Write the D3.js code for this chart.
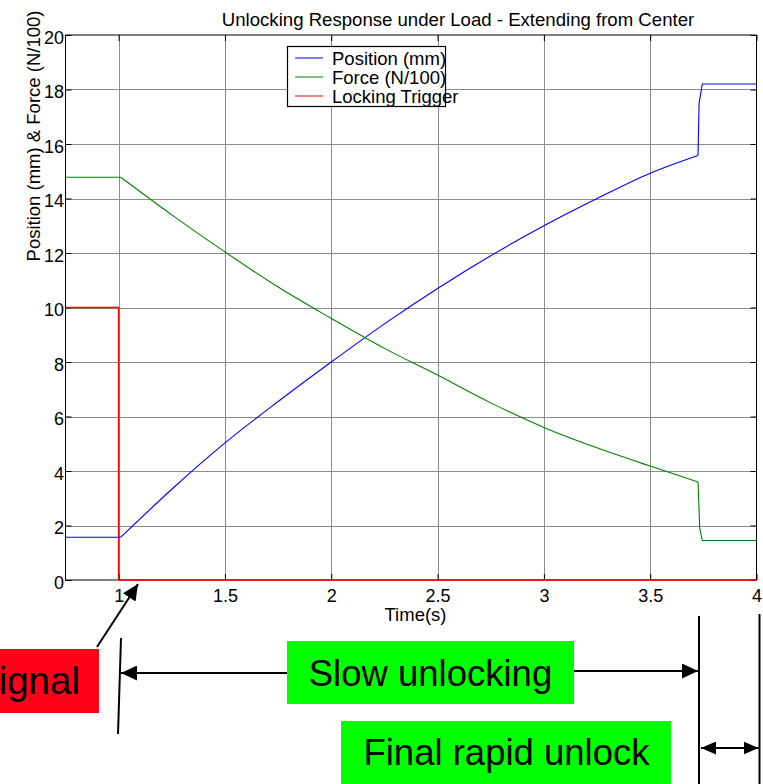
<!DOCTYPE html>
<html>
<head>
<meta charset="utf-8">
<script src="https://cdn.jsdelivr.net/npm/d3@7"></script>
<style>
  html, body { margin: 0; padding: 0; background: #fff; }
  svg { display: block; font-family: "Liberation Sans", Arial, sans-serif; }
</style>
</head>
<body>
<svg id="chart" width="763" height="784"></svg>
<script>
// ---------- data ----------
const title = "Unlocking Response under Load - Extending from Center";
const xLabel = "Time(s)";
const yLabel = "Position (mm) & Force (N/100)";
const xTicks = [1, 1.5, 2, 2.5, 3, 3.5, 4];
const yTicks = [0, 2, 4, 6, 8, 10, 12, 14, 16, 18, 20];

// index 1..12 is the smooth middle part; the rest are flat parts and steps
const positionT = [0.75, 1.01, 1.25, 1.5, 1.75, 2.0, 2.25, 2.5, 2.75, 3.0, 3.25, 3.5, 3.725, 3.73, 3.745, 4.0];
const positionV = [1.57, 1.57, 3.33, 5.03, 6.55, 8.0, 9.4, 10.7, 11.9, 13.0, 14.0, 14.93, 15.58, 17.5, 18.2, 18.2];

const forceT = [0.75, 1.01, 1.25, 1.5, 1.75, 2.0, 2.25, 2.5, 2.75, 3.0, 3.25, 3.5, 3.725, 3.733, 3.745, 4.0];
const forceV = [14.78, 14.78, 13.4, 12.04, 10.75, 9.6, 8.5, 7.52, 6.5, 5.6, 4.85, 4.18, 3.6, 1.9, 1.45, 1.45];

const triggerT = [0.75, 1.0, 1.0, 4.0];
const triggerV = [10, 10, 0, 0];

const seriesNames = ["Position (mm)", "Force (N/100)", "Locking Trigger"];
const seriesColors = ["#0000ff", "#008000", "#ff0000"];

const annotations = { signal: "Signal", slow: "Slow unlocking", rapid: "Final rapid unlock" };

// ---------- layout ----------
const FONT = "Liberation Sans, Arial, sans-serif";
const svg = d3.select("#chart");
const L = 65.5, R = 756.5, T = 35, B = 580;
const x = d3.scaleLinear().domain([0.75, 4]).range([L, R]);
const y = d3.scaleLinear().domain([0, 20]).range([B, T]);

// grid
const grid = svg.append("g").attr("stroke", "#8c8c8c").attr("stroke-width", 1);
xTicks.filter(t => t < 4).forEach(t => {
  grid.append("line").attr("x1", Math.round(x(t)) + 0.5).attr("x2", Math.round(x(t)) + 0.5)
    .attr("y1", T).attr("y2", B);
});
yTicks.filter(t => t > 0 && t < 20).forEach(t => {
  grid.append("line").attr("y1", Math.round(y(t)) + 0.5).attr("y2", Math.round(y(t)) + 0.5)
    .attr("x1", L).attr("x2", R);
});

// axes (inside ticks, box)
const xAxisB = d3.axisBottom(x).tickValues(xTicks).tickSize(-6).tickPadding(9).tickFormat(d3.format("~g"));
const xAxisT = d3.axisTop(x).tickValues(xTicks).tickSize(-6).tickFormat("");
const yAxisL = d3.axisLeft(y).tickValues(yTicks).tickSize(-6).tickPadding(1.5).tickFormat(d3.format("d"));
const yAxisR = d3.axisRight(y).tickValues(yTicks).tickSize(-6).tickFormat("");

function styleAxis(g) {
  g.select(".domain").attr("stroke", "#000");
  g.selectAll(".tick line").attr("stroke", "#000");
  g.selectAll("text").attr("font-family", FONT).attr("font-size", 18).attr("fill", "#000");
}
svg.append("g").attr("transform", `translate(0,${B})`).call(xAxisB).call(styleAxis)
  .call(g => g.select(".domain").attr("d", `M${L},0H${R}`));
svg.append("g").attr("transform", `translate(0,${T})`).call(xAxisT).call(styleAxis)
  .call(g => g.select(".domain").attr("d", `M${L},0H${R}`));
svg.append("g").attr("transform", `translate(${L},0)`).call(yAxisL).call(styleAxis)
  .call(g => g.select(".domain").attr("d", `M0,${T}V${B}`))
  .call(g => g.selectAll(".tick text").attr("dy", "0.45em"));
svg.append("g").attr("transform", `translate(${R},0)`).call(yAxisR).call(styleAxis)
  .call(g => g.select(".domain").attr("d", `M0,${T}V${B}`));

// series
const linLine = d3.line().x(d => x(d[0])).y(d => y(d[1])).curve(d3.curveLinear);
const smoothLine = d3.line().x(d => x(d[0])).y(d => y(d[1])).curve(d3.curveMonotoneX);
function drawSeries(pts, color, width, smoothFrom, smoothTo) {
  const g = svg.append("g").attr("fill", "none").attr("stroke", color).attr("stroke-width", width)
    .attr("stroke-linejoin", "round");
  if (smoothFrom == null) {
    g.append("path").attr("d", linLine(pts));
    return;
  }
  g.append("path").attr("d", linLine(pts.slice(0, smoothFrom + 1)));
  g.append("path").attr("d", smoothLine(pts.slice(smoothFrom, smoothTo + 1)));
  g.append("path").attr("d", linLine(pts.slice(smoothTo)));
}
drawSeries(d3.zip(triggerT, triggerV), seriesColors[2], 1.5);
drawSeries(d3.zip(positionT, positionV), seriesColors[0], 1.1, 1, 12);
drawSeries(d3.zip(forceT, forceV), seriesColors[1], 1.1, 1, 12);

// title & labels
svg.append("text").attr("x", 458).attr("y", 26).attr("text-anchor", "middle")
  .attr("font-size", 18.6).attr("fill", "#000").text(title);
svg.append("text").attr("x", 415.5).attr("y", 621).attr("text-anchor", "middle")
  .attr("font-size", 18.5).attr("fill", "#000").text(xLabel);
svg.append("text").attr("transform", "translate(40,136) rotate(-90)").attr("text-anchor", "middle")
  .attr("font-size", 18.5).attr("fill", "#000").text(yLabel);

// legend
const lg = svg.append("g");
lg.append("rect").attr("x", 287.5).attr("y", 46.5).attr("width", 158).attr("height", 60)
  .attr("fill", "#fff").attr("stroke", "#000").attr("stroke-width", 1.2);
seriesNames.forEach((n, i) => {
  const yy = 58 + i * 19;
  lg.append("line").attr("x1", 295).attr("x2", 323).attr("y1", yy).attr("y2", yy)
    .attr("stroke", seriesColors[i]).attr("stroke-width", 1);
  lg.append("text").attr("x", 332).attr("y", yy + 6.5).attr("font-size", 18.5).attr("fill", "#000").text(n);
});

// annotations
const defs = svg.append("defs");
function marker(id, len, half) {
  defs.append("marker").attr("id", id).attr("markerUnits", "userSpaceOnUse")
    .attr("viewBox", `0 ${-half} ${len} ${2 * half}`).attr("refX", len).attr("refY", 0)
    .attr("markerWidth", len).attr("markerHeight", 2 * half).attr("orient", "auto-start-reverse")
    .append("path").attr("d", `M0,${-half}L${len},0L0,${half}Z`).attr("fill", "#000");
}
marker("ah", 16, 7.5);
marker("ahs", 15, 6.5);

const ann = svg.append("g").attr("stroke", "#000").attr("stroke-width", 2).attr("fill", "none");

// Signal box
svg.append("rect").attr("x", 0).attr("y", 649).attr("width", 99).attr("height", 64).attr("fill", "#ff0019");
svg.append("text").attr("x", 80).attr("y", 694).attr("text-anchor", "end").attr("font-size", 38.5)
  .attr("fill", "#000").text(annotations.signal);
ann.append("line").attr("x1", 97).attr("y1", 647).attr("x2", 138).attr("y2", 584).attr("marker-end", "url(#ah)");

// vertical marker at t=1
ann.append("line").attr("x1", 121).attr("y1", 638).attr("x2", 118).attr("y2", 734);

// slow unlocking arrows
ann.append("line").attr("x1", 287).attr("y1", 673).attr("x2", 121).attr("y2", 673).attr("marker-end", "url(#ah)");
ann.append("line").attr("x1", 573).attr("y1", 671).attr("x2", 698).attr("y2", 671).attr("marker-end", "url(#ah)");
svg.append("rect").attr("x", 287).attr("y", 641).attr("width", 287).attr("height", 63).attr("fill", "#00ff00");
svg.append("text").attr("x", 430.5).attr("y", 686).attr("text-anchor", "middle").attr("font-size", 36.5)
  .attr("fill", "#000").text(annotations.slow);

// rapid unlock vertical lines and double arrow
ann.append("line").attr("x1", 699).attr("y1", 616).attr("x2", 699).attr("y2", 784);
ann.append("line").attr("x1", 759.5).attr("y1", 614).attr("x2", 759.5).attr("y2", 784);
ann.append("line").attr("x1", 701).attr("y1", 748).attr("x2", 758.5).attr("y2", 748)
  .attr("marker-start", "url(#ahs)").attr("marker-end", "url(#ahs)");
svg.append("rect").attr("x", 341).attr("y", 721).attr("width", 330).attr("height", 63).attr("fill", "#00ff00");
svg.append("text").attr("x", 506.5).attr("y", 765).attr("text-anchor", "middle").attr("font-size", 36.5)
  .attr("fill", "#000").text(annotations.rapid);
</script>
</body>
</html>
